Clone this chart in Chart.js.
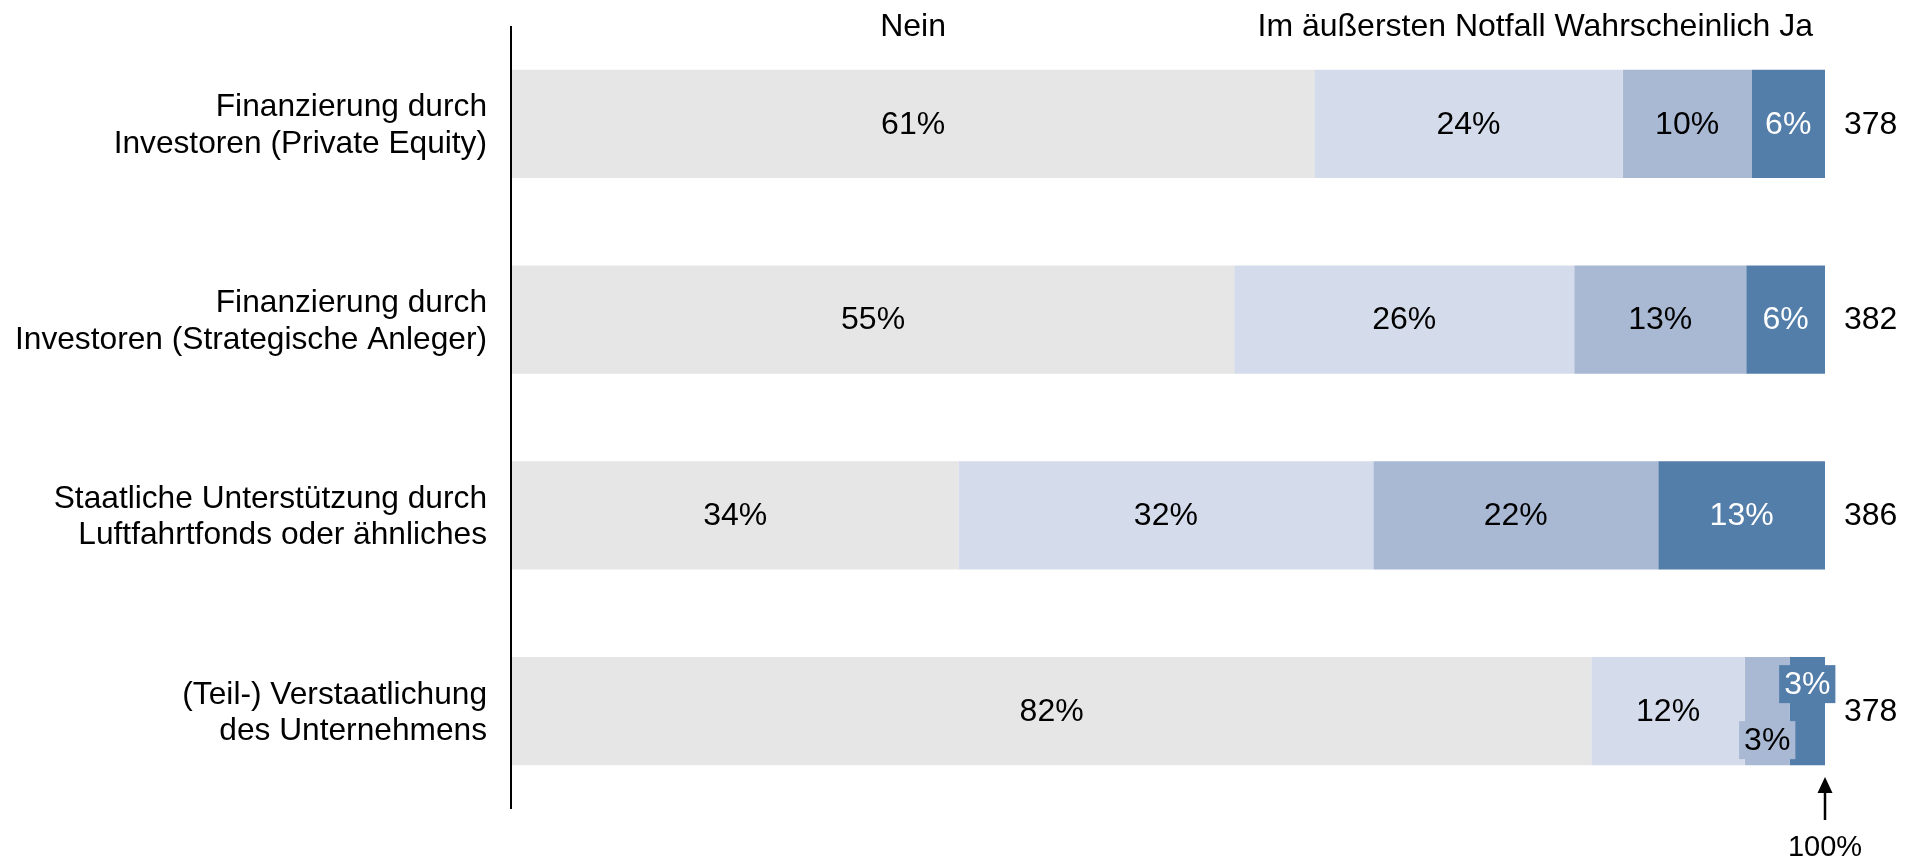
<!DOCTYPE html>
<html>
<head>
<meta charset="utf-8">
<script src="https://cdn.jsdelivr.net/npm/chart.js@4"></script>
<style>
  html, body { margin: 0; padding: 0; background: #fff; }
  #wrap { width: 1924px; height: 860px; }
</style>
</head>
<body>
<div id="wrap"><canvas id="c" width="1924" height="860"></canvas></div>
<script>
// ---- data ----
const categories = [
  ['Finanzierung durch', 'Investoren (Private Equity)'],
  ['Finanzierung durch', 'Investoren (Strategische Anleger)'],
  ['Staatliche Unterstützung durch', 'Luftfahrtfonds oder ähnliches'],
  ['(Teil-) Verstaatlichung', 'des Unternehmens']
];
const seriesNames = ['Nein', 'Im äußersten Notfall', 'Wahrscheinlich', 'Ja'];
const nein = [61.1, 55.0, 34.0, 82.2];
const notfall = [23.5, 25.9, 31.6, 11.7];
const wahrscheinlich = [9.8, 13.1, 21.7, 3.4];
const ja = [5.6, 6.0, 12.7, 2.7];
const sampleSizes = [378, 382, 386, 378];
const headerLeft = 'Nein';
const headerRight = 'Im äußersten Notfall Wahrscheinlich Ja';
const markerLabel = '100%';

const colors = ['#E6E6E6', '#D4DBEA', '#A9B9D4', '#547EAA'];
const labelColors = ['#000000', '#000000', '#000000', '#FFFFFF'];
const FONT = "'Liberation Sans', Arial, Helvetica, sans-serif";

const seriesValues = [nein, notfall, wahrscheinlich, ja];

const overlayPlugin = {
  id: 'overlay',
  afterDatasetsDraw(chart) {
    const ctx = chart.ctx;
    const area = chart.chartArea;
    ctx.save();

    // vertical axis line
    ctx.strokeStyle = '#000';
    ctx.lineWidth = 2;
    ctx.beginPath();
    ctx.moveTo(area.left - 1, area.top);
    ctx.lineTo(area.left - 1, area.bottom);
    ctx.stroke();

    ctx.font = '32px ' + FONT;
    ctx.textBaseline = 'middle';
    const nBars = categories.length;
    for (let j = 0; j < nBars; j++) {
      let smallCount = 0;
      for (let i = 0; i < seriesValues.length; i++) {
        const el = chart.getDatasetMeta(i).data[j];
        const v = seriesValues[i][j];
        const txt = Math.round(v) + '%';
        const left = Math.min(el.x, el.base), right = Math.max(el.x, el.base);
        const w = right - left;
        const cx = (left + right) / 2;
        const tw = ctx.measureText(txt).width;
        ctx.textAlign = 'center';
        if (tw + 4 <= w) {
          ctx.fillStyle = labelColors[i];
          ctx.fillText(txt, cx, el.y + 1);
        } else {
          const dy = (smallCount % 2 === 0) ? 29 : -27;
          smallCount++;
          const bw = tw + 10, bh = 38;
          ctx.fillStyle = colors[i];
          ctx.fillRect(cx - bw / 2, el.y + dy - bh / 2, bw, bh);
          ctx.fillStyle = labelColors[i];
          ctx.fillText(txt, cx, el.y + dy + 1);
        }
      }
      // sample size at right
      const lastEl = chart.getDatasetMeta(seriesValues.length - 1).data[j];
      ctx.textAlign = 'left';
      ctx.fillStyle = '#000';
      ctx.fillText(String(sampleSizes[j]), area.right + 19, lastEl.y + 1);
    }

    // headers
    const first = chart.getDatasetMeta(0).data[0];
    ctx.fillStyle = '#000';
    ctx.textAlign = 'center';
    ctx.fillText(headerLeft, (first.x + first.base) / 2, 27);
    ctx.textAlign = 'right';
    ctx.fillText(headerRight, area.right - 12, 27);

    // 100% marker arrow
    const xs = chart.scales.x;
    const mx = xs.getPixelForValue(100);
    ctx.strokeStyle = '#000';
    ctx.lineWidth = 2.5;
    ctx.beginPath();
    ctx.moveTo(mx, 820);
    ctx.lineTo(mx, 790);
    ctx.stroke();
    ctx.fillStyle = '#000';
    ctx.beginPath();
    ctx.moveTo(mx, 777);
    ctx.lineTo(mx - 7.5, 793);
    ctx.lineTo(mx + 7.5, 793);
    ctx.closePath();
    ctx.fill();
    ctx.font = '29px ' + FONT;
    ctx.textAlign = 'center';
    ctx.textBaseline = 'middle';
    ctx.fillText(markerLabel, mx, 848);

    ctx.restore();
  }
};

new Chart(document.getElementById('c'), {
  type: 'bar',
  data: {
    labels: categories,
    datasets: seriesValues.map((vals, i) => ({
      label: seriesNames[i],
      data: vals,
      backgroundColor: colors[i],
      borderWidth: 0,
      categoryPercentage: 1.0,
      barPercentage: 0.554
    }))
  },
  options: {
    indexAxis: 'y',
    responsive: false,
    devicePixelRatio: 1,
    animation: false,
    layout: { padding: { left: 0, right: 99, top: 26, bottom: 51 } },
    plugins: {
      legend: { display: false },
      tooltip: { enabled: false }
    },
    scales: {
      x: {
        stacked: true,
        min: 0,
        max: 100,
        display: false
      },
      y: {
        stacked: true,
        grid: { display: false, drawTicks: false, tickLength: 0 },
        border: { display: false },
        ticks: {
          color: '#000',
          padding: 25,
          labelOffset: 2,
          font: { family: FONT, size: 31.7, lineHeight: 1.15 }
        },
        afterFit(scale) {
          scale.width = 512;
          scale.paddingTop = 0;
          scale.paddingBottom = 0;
        }
      }
    }
  },
  plugins: [overlayPlugin]
});
</script>
</body>
</html>
